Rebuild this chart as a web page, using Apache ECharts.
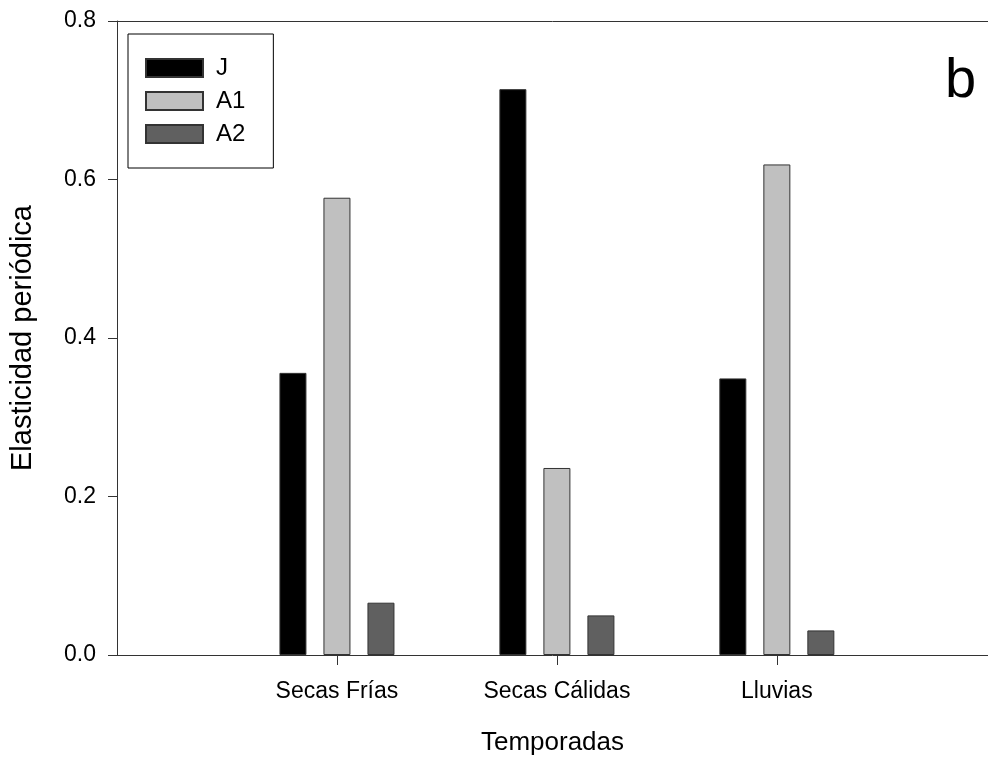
<!DOCTYPE html>
<html>
<head>
<meta charset="utf-8">
<title>Elasticidad periódica</title>
<script src="https://cdn.jsdelivr.net/npm/echarts@6/dist/echarts.min.js"></script>
<style>
  html, body { margin: 0; padding: 0; background: #fff; }
  #chart { width: 988px; height: 765px; }
</style>
</head>
<body>
<div id="chart"></div>
<script>
  // temporadas (x = 1, 2, 3)
  var seasons = ['Secas Frías', 'Secas Cálidas', 'Lluvias'];
  var seasonPos = [1, 2, 3];

  // elasticidad por estadio
  var jValues = [0.356, 0.714, 0.349];
  var a1Values = [0.577, 0.236, 0.619];
  var a2Values = [0.066, 0.050, 0.031];

  var yTicks = [0, 0.2, 0.4, 0.6, 0.8];

  var fontFam = '"Liberation Sans", Arial, sans-serif';

  function pairs(vals) {
    return vals.map(function (v, i) { return [seasonPos[i], v]; });
  }

  var chart = echarts.init(document.getElementById('chart'), null, { renderer: 'canvas' });

  var barStyle = function (fill) {
    return { color: fill, borderColor: '#333', borderWidth: 1 };
  };

  var option = {
    backgroundColor: '#fff',
    animation: false,
    textStyle: { fontFamily: fontFam, color: '#000' },
    grid: { left: 117, top: 21, right: 0, bottom: 110, containLabel: false },
    legend: {
      orient: 'vertical',
      left: 128,
      top: 34,
      padding: [22, 28, 22, 17],
      borderColor: '#000',
      borderWidth: 1,
      itemWidth: 57,
      itemHeight: 18,
      itemGap: 9,
      icon: 'rect',
      textStyle: { fontSize: 24, color: '#000', fontFamily: fontFam, padding: [0, 0, 0, 8] },
      data: ['J', 'A1', 'A2']
    },
    graphic: [{
      type: 'text',
      left: 945,
      top: 54,
      style: { text: 'b', fontSize: 56, fontFamily: fontFam, fill: '#000' }
    }],
    xAxis: [{
      type: 'value',
      min: 0,
      max: 3.96,
      name: 'Temporadas',
      nameLocation: 'middle',
      nameGap: 75,
      nameTextStyle: { fontSize: 26, color: '#000', fontFamily: fontFam },
      axisLine: { show: true, onZero: false, lineStyle: { color: '#333', width: 1 } },
      axisTick: { show: true, length: 10, customValues: seasonPos, lineStyle: { color: '#333' } },
      axisLabel: {
        customValues: seasonPos,
        margin: 25,
        fontSize: 23,
        color: '#000',
        fontFamily: fontFam,
        formatter: function (v) { return seasons[Math.round(v) - 1] || ''; }
      },
      splitLine: { show: false }
    }, {
      type: 'value',
      position: 'top',
      min: 0,
      max: 3.96,
      axisLine: { show: true, onZero: false, lineStyle: { color: '#333', width: 1 } },
      axisTick: { show: false },
      axisLabel: { show: false },
      splitLine: { show: false }
    }],
    yAxis: {
      type: 'value',
      min: 0,
      max: 0.8,
      interval: 0.2,
      name: 'Elasticidad periódica',
      nameLocation: 'middle',
      nameGap: 80,
      nameTextStyle: { fontSize: 29, color: '#000', fontFamily: fontFam },
      axisLine: { show: true, lineStyle: { color: '#333', width: 1 } },
      axisTick: { show: true, inside: false, length: 9, customValues: yTicks, lineStyle: { color: '#333' } },
      axisLabel: {
        margin: 21,
        fontSize: 23,
        color: '#000',
        fontFamily: fontFam,
        formatter: function (v) { return v.toFixed(1); }
      },
      splitLine: { show: false }
    },
    series: [{
      name: 'J',
      type: 'bar',
      barWidth: 27,
      barGap: '63%',
      itemStyle: barStyle('#000000'),
      data: pairs(jValues)
    }, {
      name: 'A1',
      type: 'bar',
      barWidth: 27,
      barGap: '63%',
      itemStyle: barStyle('#c0c0c0'),
      data: pairs(a1Values)
    }, {
      name: 'A2',
      type: 'bar',
      barWidth: 27,
      barGap: '63%',
      itemStyle: barStyle('#606060'),
      data: pairs(a2Values)
    }]
  };

  chart.setOption(option);
</script>
</body>
</html>
